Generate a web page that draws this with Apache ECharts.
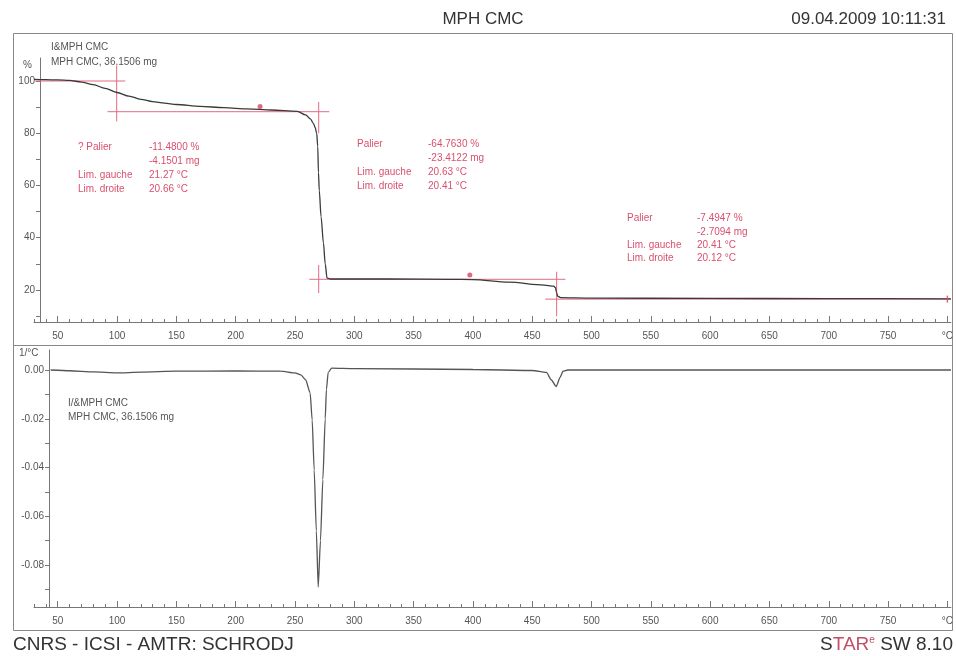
<!DOCTYPE html>
<html>
<head>
<meta charset="utf-8">
<script src="https://cdn.jsdelivr.net/npm/echarts@6/dist/echarts.min.js"></script>
<style>
html, body { margin: 0; padding: 0; background: #fff; }
#main { width: 956px; height: 656px; }
</style>
</head>
<body>
<div id="main"></div>
<script>
// TGA curve: temperature (°C), mass (%)
var tgaData = [
  [30, 100.6], [40, 100.5], [50, 100.4], [60, 100.2], [70, 99.6], [80, 98.6], [90, 97.2],
  [100, 95.6], [110, 94.2], [120, 93.0], [130, 92.1], [140, 91.5], [150, 91.0], [170, 90.3],
  [190, 89.8], [210, 89.3], [230, 88.9], [252, 88.4], [259, 87.0], [263, 85.5], [265.5, 83.8],
  [267, 82.2], [268.3, 80], [269.2, 75], [269.8, 65], [270.5, 58], [272, 48], [274, 38],
  [275.5, 30], [277, 24.6], [280, 24.2], [330, 24.2], [380, 24.1], [400, 24.0], [430, 23.0],
  [460, 21.9], [468, 21.5], [469.5, 21.0], [470.5, 19.0], [471.5, 17.6], [474, 17.1],
  [500, 16.9], [600, 16.8], [700, 16.7], [803, 16.6]
];
// DTG curve: temperature (°C), 1/°C
var dtgData = [
  [44, 0.0], [60, -0.0003], [80, -0.0008], [100, -0.0012], [120, -0.0009], [150, -0.0005],
  [200, -0.0004], [238, -0.0005], [250, -0.0012], [255, -0.002], [259, -0.004], [262.8, -0.0094],
  [264.5, -0.0205], [266.2, -0.041], [268, -0.066], [269.6, -0.089], [271.5, -0.07],
  [273.5, -0.045], [275.5, -0.02], [276.5, -0.008], [278, -0.001], [281, 0.0008], [300, 0.0006],
  [400, 0.0002], [450, -0.0002], [462, -0.001], [466, -0.004], [470.2, -0.0068], [473.5, -0.003],
  [476, -0.0005], [480, 0.0], [600, 0.0], [700, 0.0], [803, 0.0]
];
// step evaluation lines (red)
var stepLines = [
  [[31, 100], [107, 100]],
  [[99.7, 106], [99.7, 84.5]],
  [[92, 88.25], [279, 88.25]],
  [[270, 92], [270, 80]],
  [[262, 24.1], [478, 24.1]],
  [[270, 29.6], [270, 18.8]],
  [[461, 16.5], [803, 16.5]],
  [[470.6, 27], [470.6, 10]]
];
var stepDots = [[220.6, 90.2], [397.4, 25.7]];
var endMark = [[800, 16.5]];

var xLabels = [50, 100, 150, 200, 250, 300, 350, 400, 450, 500, 550, 600, 650, 700, 750, 800];
var xTicks = [];
for (var t = 30; t <= 800; t += 10) xTicks.push(t);
var tgaLabels = [20, 40, 60, 80, 100];
var tgaTicks = [10, 20, 30, 40, 50, 60, 70, 80, 90, 100];
var dtgLabels = [0, -0.02, -0.04, -0.06, -0.08];
var dtgTicks = [0, -0.01, -0.02, -0.03, -0.04, -0.05, -0.06, -0.07, -0.08, -0.09];

var RED = '#e56a82';
var TXT_RED = '#d9506e';
var FONT = 'Liberation Sans, Arial, sans-serif';

function xAxisFor(grid) {
  return {
    type: 'value', gridIndex: grid, min: 30, max: 803, position: 'bottom',
    axisLine: { onZero: false, lineStyle: { color: '#777', width: 1 } },
    axisTick: { inside: true, length: 3, customValues: xTicks, lineStyle: { color: '#777' } },
    axisLabel: {
      customValues: xLabels, margin: 9, color: '#555', fontSize: 10, fontFamily: FONT,
      formatter: function (v) { return v === 800 ? '°C' : String(v); }
    },
    splitLine: { show: false }
  };
}
// second axis on the same grid only for the longer ticks every 50 °C
function majorAxisFor(grid) {
  return {
    type: 'value', gridIndex: grid, min: 30, max: 803, position: 'bottom', offset: 0,
    axisLine: { show: false, onZero: false },
    axisTick: { inside: true, length: 6, customValues: xLabels, lineStyle: { color: '#777' } },
    axisLabel: { show: false },
    splitLine: { show: false }
  };
}

var series = [
  {
    type: 'line', xAxisIndex: 0, yAxisIndex: 0, data: tgaData, showSymbol: false,
    smooth: 0.3, smoothMonotone: 'x', lineStyle: { color: '#3a3a3a', width: 1.3 }, z: 5
  },
  {
    type: 'line', xAxisIndex: 2, yAxisIndex: 1, data: dtgData, showSymbol: false,
    smooth: 0.2, smoothMonotone: 'x', lineStyle: { color: '#555', width: 1.3 }, z: 5
  },
  {
    type: 'scatter', xAxisIndex: 0, yAxisIndex: 0, data: stepDots, symbol: 'circle',
    symbolSize: 5, itemStyle: { color: '#d6455f' }, z: 6
  },
  {
    type: 'scatter', xAxisIndex: 0, yAxisIndex: 0, data: endMark, symbol: 'rect',
    symbolSize: [1.5, 7], itemStyle: { color: '#d6455f' }, z: 6
  }
];
stepLines.forEach(function (seg) {
  series.push({
    type: 'line', xAxisIndex: 0, yAxisIndex: 0, data: seg, showSymbol: false,
    lineStyle: { color: RED, width: 1 }, z: 3, silent: true
  });
});

function textBlock(x, y, text, color, lh) {
  return {
    type: 'text', x: x, y: y,
    style: { text: text, fill: color, font: '10px ' + FONT, lineHeight: lh, verticalAlign: 'top' }
  };
}

var myChart = echarts.init(document.getElementById('main'));
option = {
  animation: false,
  backgroundColor: '#fff',
  grid: [
    { left: 34, right: 4, top: 58, bottom: 334 },
    { left: 34, right: 4, top: 350, bottom: 49 }
  ],
  xAxis: [xAxisFor(0), majorAxisFor(0), xAxisFor(1), majorAxisFor(1)],
  yAxis: [
    {
      type: 'value', gridIndex: 0, min: 7.75, max: 108.8, offset: -6,
      axisLine: { show: true, onZero: false, lineStyle: { color: '#777' } },
      axisTick: { show: true, length: 4, customValues: tgaTicks, lineStyle: { color: '#777' } },
      axisLabel: { customValues: tgaLabels, margin: 5, color: '#555', fontSize: 10, fontFamily: FONT },
      splitLine: { show: false }
    },
    {
      type: 'value', gridIndex: 1, min: -0.0972, max: 0.0082, offset: -15,
      axisLine: { show: true, onZero: false, lineStyle: { color: '#777' } },
      axisTick: { show: true, length: 4, customValues: dtgTicks, lineStyle: { color: '#777' } },
      axisLabel: {
        customValues: dtgLabels, margin: 5, color: '#555', fontSize: 10, fontFamily: FONT,
        formatter: function (v) { return v.toFixed(2); }
      },
      splitLine: { show: false }
    }
  ],
  series: series,
  graphic: [
    { type: 'rect', shape: { x: 13.5, y: 33.5, width: 939, height: 597 }, style: { fill: 'none', stroke: '#888', lineWidth: 1 } },
    { type: 'line', shape: { x1: 13.5, y1: 345.5, x2: 952.5, y2: 345.5 }, style: { stroke: '#888', lineWidth: 1 } },
    { type: 'text', x: 483, y: 19, style: { text: 'MPH CMC', fill: '#333', font: '17px ' + FONT, align: 'center', verticalAlign: 'middle' } },
    { type: 'text', x: 946, y: 19, style: { text: '09.04.2009 10:11:31', fill: '#333', font: '17px ' + FONT, align: 'right', verticalAlign: 'middle' } },
    { type: 'text', x: 13, y: 645, style: { text: 'CNRS - ICSI - AMTR: SCHRODJ', fill: '#333', font: '19px ' + FONT, verticalAlign: 'middle' } },
    {
      type: 'text', x: 953, y: 645,
      style: {
        text: '{a|S}{b|TAR}{c|e}{a| SW 8.10}', align: 'right', verticalAlign: 'middle',
        rich: {
          a: { fill: '#333', font: '19px ' + FONT },
          b: { fill: '#c0506a', font: '19px ' + FONT },
          c: { fill: '#c0506a', font: '10px ' + FONT, verticalAlign: 'top', padding: [0, 0, 10, 0] }
        }
      }
    },
    textBlock(51, 40, 'I&MPH CMC\nMPH CMC, 36.1506 mg', '#555', 15),
    textBlock(68, 396, 'I/&MPH CMC\nMPH CMC, 36.1506 mg', '#555', 14),
    { type: 'text', x: 23, y: 65, style: { text: '%', fill: '#555', font: '10px ' + FONT, verticalAlign: 'middle' } },
    { type: 'text', x: 19, y: 353, style: { text: '1/°C', fill: '#555', font: '10px ' + FONT, verticalAlign: 'middle' } },
    textBlock(78, 140, '? Palier\n\nLim. gauche\nLim. droite', TXT_RED, 14),
    textBlock(149, 140, '-11.4800 %\n-4.1501 mg\n21.27 °C\n20.66 °C', TXT_RED, 14),
    textBlock(357, 137, 'Palier\n\nLim. gauche\nLim. droite', TXT_RED, 14),
    textBlock(428, 137, '-64.7630 %\n-23.4122 mg\n20.63 °C\n20.41 °C', TXT_RED, 14),
    textBlock(627, 212, 'Palier\n\nLim. gauche\nLim. droite', TXT_RED, 13.2),
    textBlock(697, 212, '-7.4947 %\n-2.7094 mg\n20.41 °C\n20.12 °C', TXT_RED, 13.2)
  ]
};
myChart.setOption(option);
</script>
</body>
</html>
